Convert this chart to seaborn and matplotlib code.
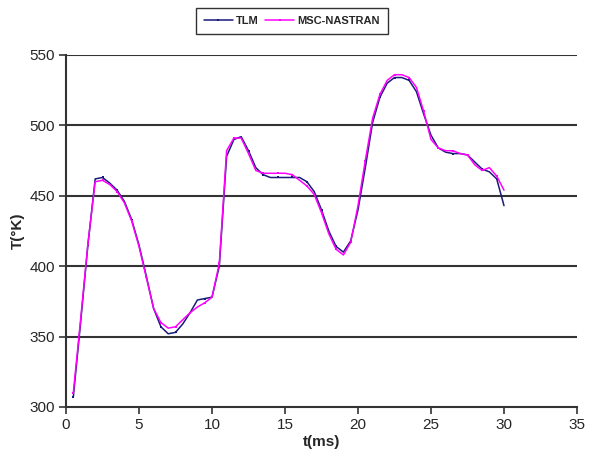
import numpy as np
import pandas as pd
import matplotlib
matplotlib.use("Agg")
import matplotlib.pyplot as plt
import seaborn as sns

t_ms = [0.5, 1.0, 1.5, 2.0, 2.5, 3.0, 3.5, 4.0, 4.5, 5.0, 5.5, 6.0, 6.5, 7.0, 7.5,
        8.0, 8.5, 9.0, 9.5, 10.0, 10.5, 11.0, 11.5, 12.0, 12.5, 13.0, 13.5, 14.0,
        14.5, 15.0, 15.5, 16.0, 16.5, 17.0, 17.5, 18.0, 18.5, 19.0, 19.5, 20.0,
        20.5, 21.0, 21.5, 22.0, 22.5, 23.0, 23.5, 24.0, 24.5, 25.0, 25.5, 26.0,
        26.5, 27.0, 27.5, 28.0, 28.5, 29.0, 29.5, 30.0]

tlm = [307, 360, 415, 462, 463, 459, 454, 446, 433, 415, 393, 370, 357, 352, 353,
       359, 367, 376, 377, 378, 400, 478, 490, 492, 482, 470, 465, 463,
       463, 463, 463, 463, 460, 453, 440, 425, 414, 410, 418, 440,
       470, 502, 520, 530, 534, 534, 532, 524, 508, 493, 484, 481,
       480, 480, 479, 474, 469, 467, 462, 443]

msc = [310, 362, 416, 460, 461, 458, 453, 445, 432, 414, 392, 370, 360, 356, 357,
       362, 367, 371, 374, 378, 402, 482, 491, 491, 480, 468, 466, 466,
       466, 466, 465, 461, 457, 451, 438, 423, 412, 408, 417, 443,
       475, 505, 522, 532, 536, 536, 534, 527, 510, 490, 484, 482,
       482, 480, 479, 472, 468, 470, 464, 454]

series_names = ["TLM", "MSC-NASTRAN"]
x_ticks = [0, 5, 10, 15, 20, 25, 30, 35]
y_ticks = [300, 350, 400, 450, 500, 550]

df = pd.DataFrame({
    "t": t_ms * 2,
    "T": tlm + msc,
    "series": [series_names[0]] * len(t_ms) + [series_names[1]] * len(t_ms),
})

sns.set_style("white")
plt.rcParams["font.family"] = ["Liberation Sans", "DejaVu Sans"]

fig = plt.figure(figsize=(5.92, 4.62), dpi=100)
ax = fig.add_axes([66 / 592, 1 - 407 / 462, (577 - 66) / 592, (407 - 55) / 462])

colors = {"TLM": "#1a1a7a", "MSC-NASTRAN": "#ff00ff"}
for name in series_names:
    sub = df[df["series"] == name]
    sns.lineplot(data=sub, x="t", y="T", ax=ax, color=colors[name], lw=1.1,
                 marker="s", markersize=1.6, markeredgewidth=0, markevery=2,
                 label=name, sort=False, zorder=3 if name == "MSC-NASTRAN" else 2)

ax.set_xlim(0, 35)
ax.set_ylim(300, 550)
ax.set_xticks(x_ticks)
ax.set_yticks(y_ticks)
ax.tick_params(axis="both", direction="out", length=5, width=1.2, color="#333333",
               labelsize=11, pad=3, left=True, bottom=True)
for y in y_ticks[1:]:
    ax.axhline(y, color="#333333", lw=1.5, zorder=1)
for s in ["top", "right"]:
    ax.spines[s].set_visible(False)
for s in ["left", "bottom"]:
    ax.spines[s].set_color("#333333")
    ax.spines[s].set_linewidth(1.5)

ax.set_xlabel("t(ms)", fontsize=11, fontweight="bold", labelpad=2)
ax.set_ylabel("T(°K)", fontsize=11, fontweight="bold", labelpad=3)

if ax.legend_:
    ax.legend_.remove()
leg = fig.legend(*ax.get_legend_handles_labels(), loc="center",
                 bbox_to_anchor=(292 / 592, 1 - 21 / 462), ncol=2, frameon=True,
                 fancybox=False, edgecolor="black", fontsize=8, handlelength=2.6,
                 columnspacing=0.6, handletextpad=0.3, borderpad=0.7)
leg.get_frame().set_linewidth(1.0)
for txt in leg.get_texts():
    txt.set_fontweight("bold")

fig.savefig("out.png", dpi=100)
